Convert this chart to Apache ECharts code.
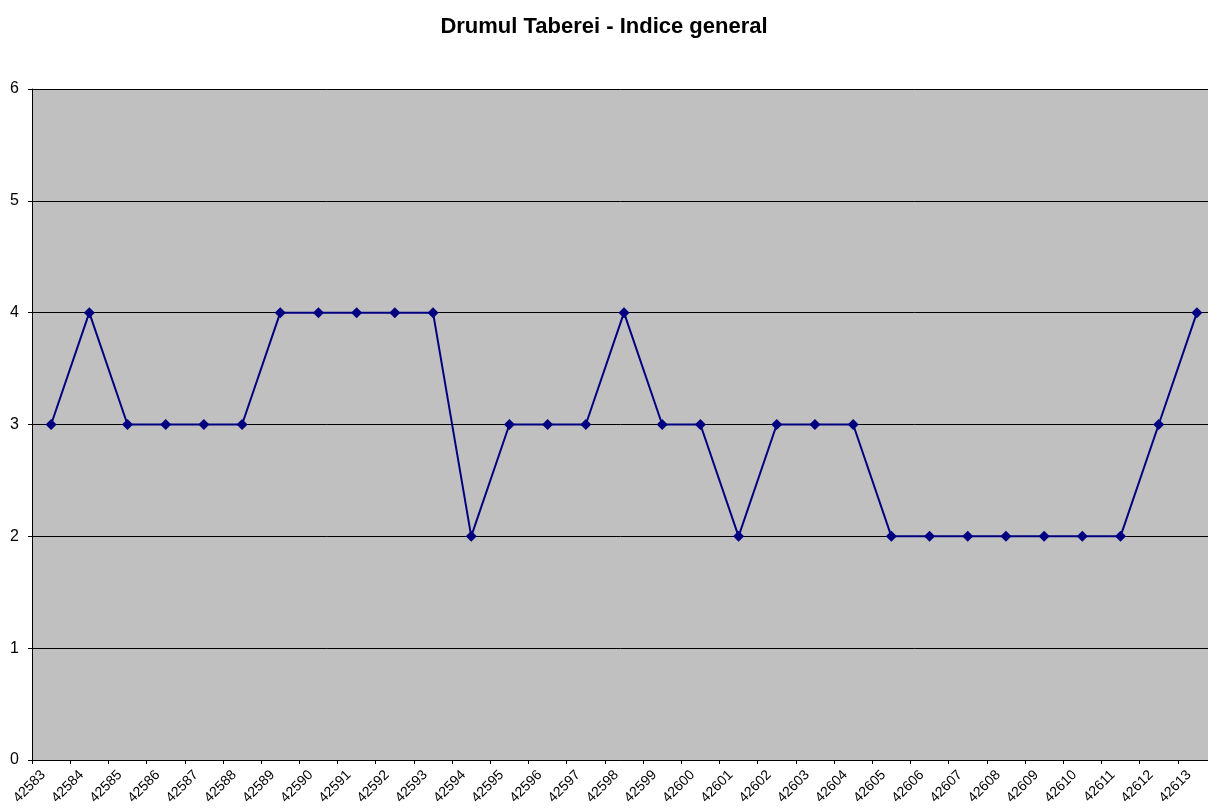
<!DOCTYPE html>
<html><head><meta charset="utf-8">
<script src="https://cdn.jsdelivr.net/npm/echarts@6/dist/echarts.min.js"></script>
<style>html,body{margin:0;padding:0;background:#fff}#c{width:1208px;height:810px}</style>
</head><body><div id="c"></div>
<script>
const titleText = 'Drumul Taberei - Indice general';
const categories = ['42583','42584','42585','42586','42587','42588','42589','42590','42591','42592','42593','42594','42595','42596','42597','42598','42599','42600','42601','42602','42603','42604','42605','42606','42607','42608','42609','42610','42611','42612','42613'];
const values = [3,4,3,3,3,3,4,4,4,4,4,2,3,3,3,4,3,3,2,3,3,3,2,2,2,2,2,2,2,3,4];
const yTicks = [0,1,2,3,4,5,6];

const chart = echarts.init(document.getElementById('c'));
chart.setOption({
  animation: false,
  backgroundColor: '#ffffff',
  title: { text: titleText, left: 'center', top: 11,
    textStyle: { fontFamily: 'Liberation Sans, Arial', fontSize: 22, fontWeight: 'bold', color: '#000' } },
  grid: { left: 32, top: 89, width: 1184, height: 671, outerBoundsMode: 'none', containLabel: false,
    backgroundColor: '#c0c0c0', show: true, borderWidth: 0 },
  xAxis: {
    type: 'category', data: categories, boundaryGap: true,
    axisLine: { show: true, lineStyle: { color: '#000', width: 1 } },
    axisTick: { show: true, length: 4, lineStyle: { color: '#000' } },
    axisLabel: { rotate: 45, fontSize: 14, fontFamily: 'Liberation Sans, Arial', color: '#000', margin: 5, interval: 0,
      padding: [0, 11, 0, 0] }
  },
  yAxis: {
    type: 'value', min: yTicks[0], max: yTicks[yTicks.length-1], interval: 1,
    axisLine: { show: true, lineStyle: { color: '#000', width: 1 } },
    axisTick: { show: true, length: 4, lineStyle: { color: '#000' } },
    axisLabel: { fontSize: 16, fontFamily: 'Liberation Sans, Arial', color: '#000', margin: 13 },
    splitLine: { show: true, lineStyle: { color: '#000', width: 1 } }
  },
  series: [{
    type: 'line', data: values,
    symbol: 'diamond', symbolSize: 11,
    lineStyle: { color: '#000080', width: 2 },
    itemStyle: { color: '#000080' }
  }]
});
</script></body></html>
